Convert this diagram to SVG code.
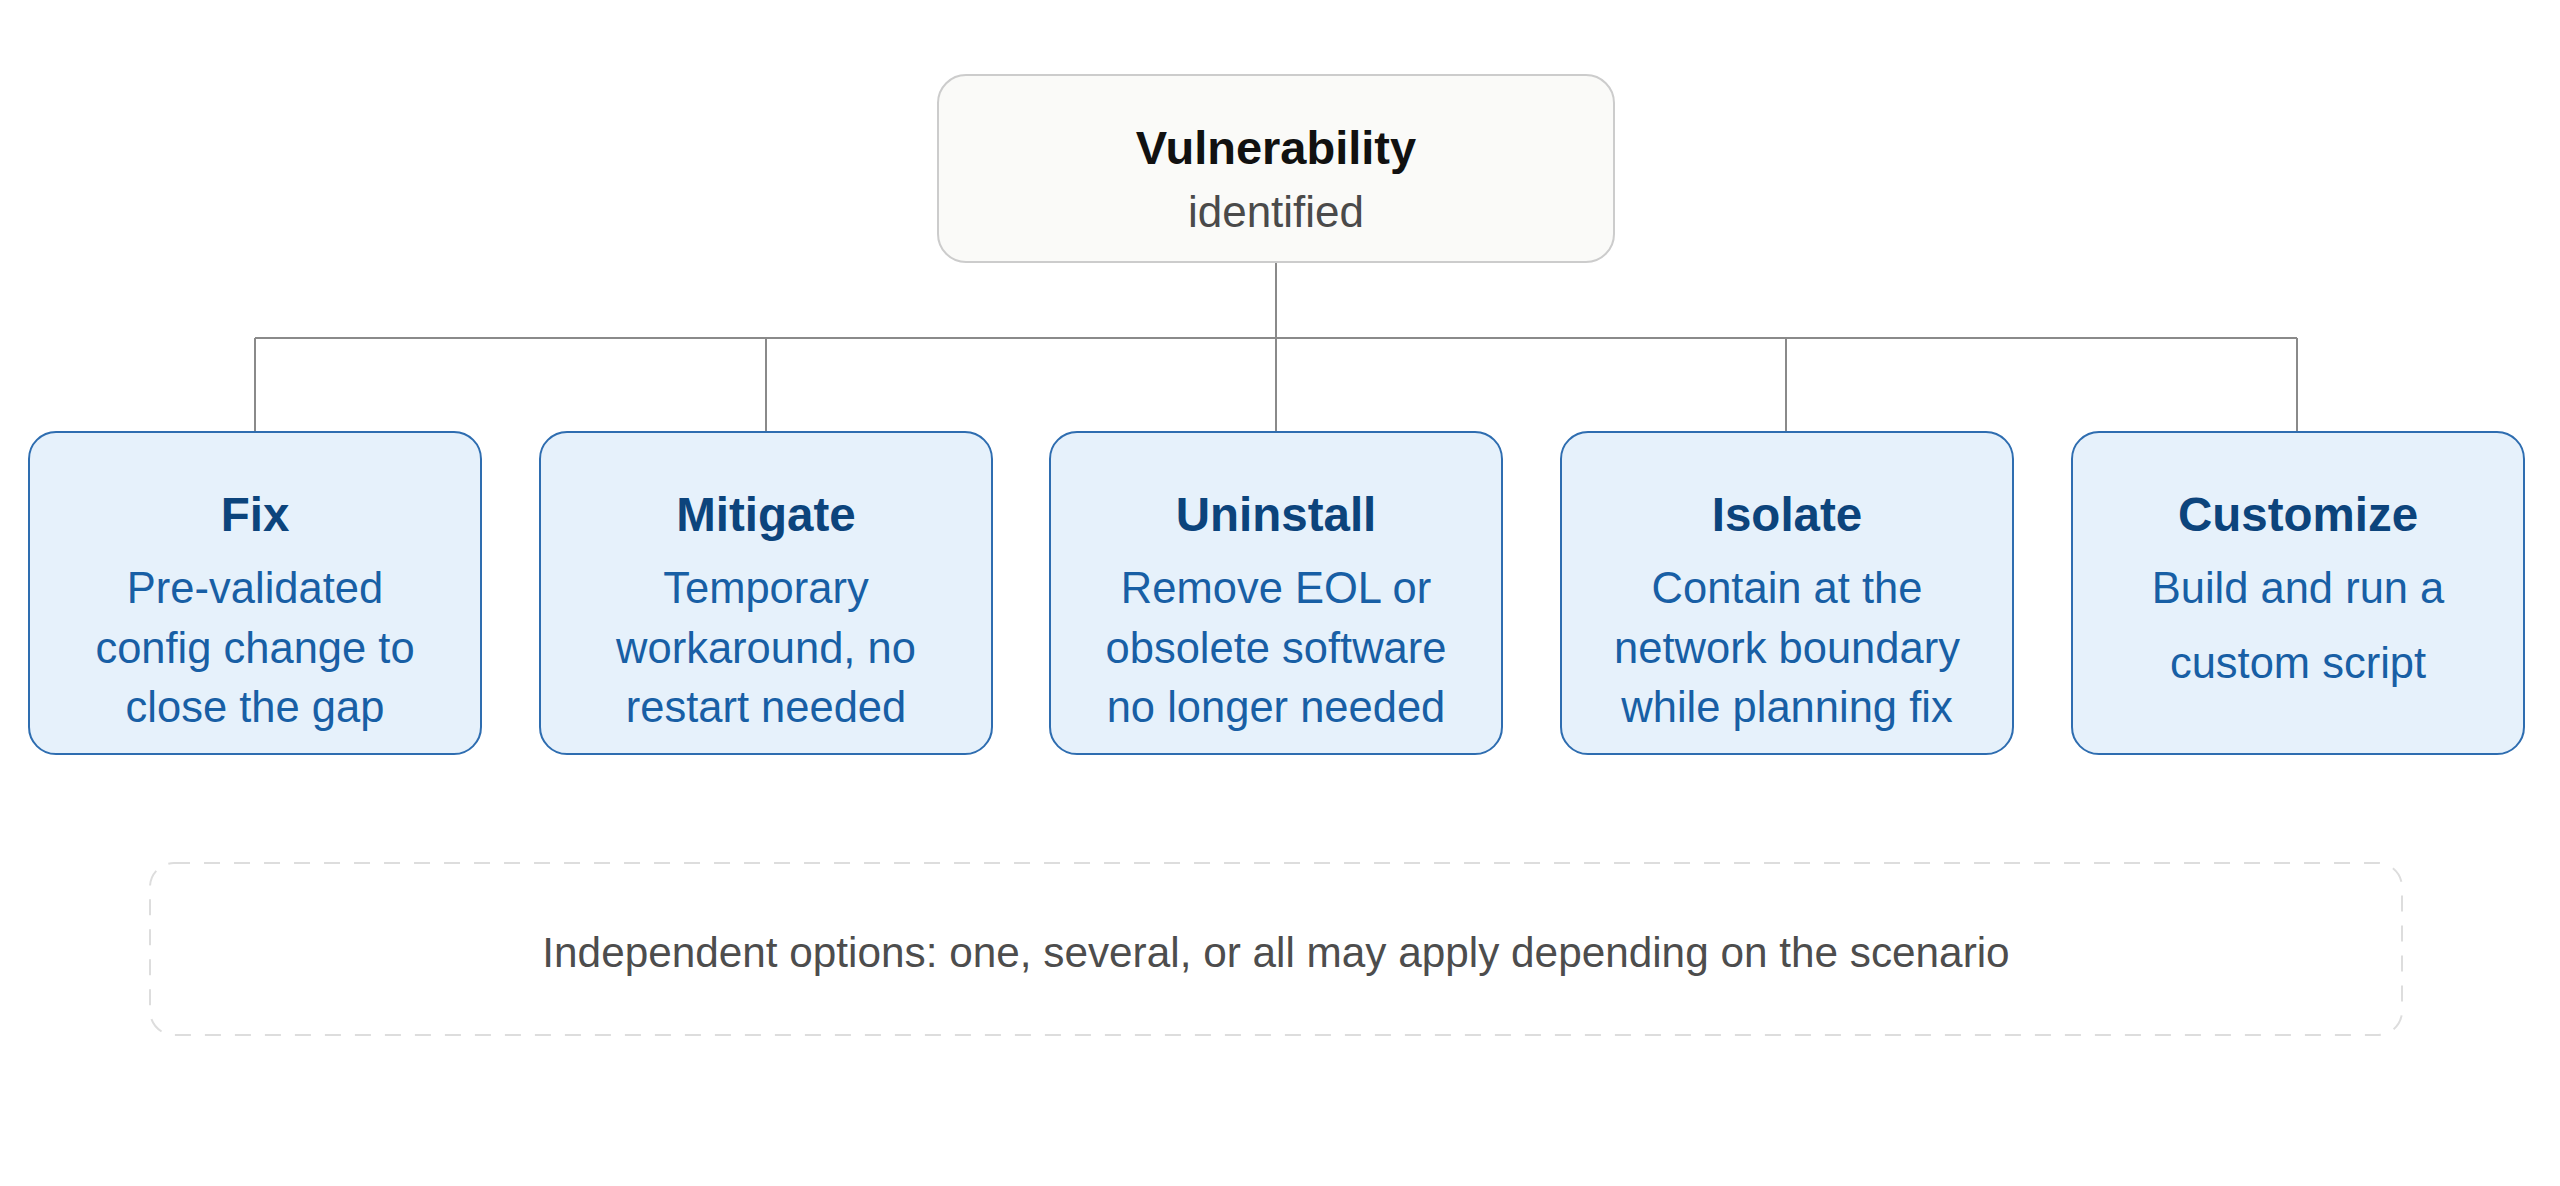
<svg xmlns="http://www.w3.org/2000/svg" width="2560" height="1186" viewBox="0 0 2560 1186">
<style>
.opt rect{fill:#E6F1FB;stroke:#2E6DB0;stroke-width:2}
.t{font-family:"Liberation Sans",Arial,sans-serif;font-weight:bold;font-size:47.5px;fill:#0C447C;text-anchor:middle}
.s{font-family:"Liberation Sans",Arial,sans-serif;font-size:43.5px;fill:#185FA5;text-anchor:middle}
.conn{stroke:#8a8a8a;stroke-width:2;fill:none}
</style>
<rect width="2560" height="1186" fill="#ffffff"/>
<g id="connectors" class="conn">
<path d="M1276 262V338"/>
<path d="M255 338H2297"/>
<path d="M255 338V432M766 338V432M1276 338V432M1786 338V432M2297 338V432"/>
</g>
<g id="vulnerability">
<rect x="938" y="75" width="676" height="187" rx="28" fill="#FAFAF8" stroke="#cccccc" stroke-width="2"/>
<text x="1276" y="164" font-family="Liberation Sans,Arial,sans-serif" font-weight="bold" font-size="47" fill="#111111" text-anchor="middle">Vulnerability</text>
<text x="1276" y="227" font-family="Liberation Sans,Arial,sans-serif" font-size="44" fill="#4a4a4a" text-anchor="middle">identified</text>
</g>
<g id="fix" class="opt">
<rect x="29" y="432" width="452" height="322" rx="27"/>
<text class="t" x="255" y="531">Fix</text>
<text class="s" x="255" y="603">Pre-validated</text>
<text class="s" x="255" y="663">config change to</text>
<text class="s" x="255" y="722">close the gap</text>
</g>
<g id="mitigate" class="opt">
<rect x="540" y="432" width="452" height="322" rx="27"/>
<text class="t" x="766" y="531">Mitigate</text>
<text class="s" x="766" y="603">Temporary</text>
<text class="s" x="766" y="663">workaround, no</text>
<text class="s" x="766" y="722">restart needed</text>
</g>
<g id="uninstall" class="opt">
<rect x="1050" y="432" width="452" height="322" rx="27"/>
<text class="t" x="1276" y="531">Uninstall</text>
<text class="s" x="1276" y="603">Remove EOL or</text>
<text class="s" x="1276" y="663">obsolete software</text>
<text class="s" x="1276" y="722">no longer needed</text>
</g>
<g id="isolate" class="opt">
<rect x="1561" y="432" width="452" height="322" rx="27"/>
<text class="t" x="1787" y="531">Isolate</text>
<text class="s" x="1787" y="603">Contain at the</text>
<text class="s" x="1787" y="663">network boundary</text>
<text class="s" x="1787" y="722">while planning fix</text>
</g>
<g id="customize" class="opt">
<rect x="2072" y="432" width="452" height="322" rx="27"/>
<text class="t" x="2298" y="531">Customize</text>
<text class="s" x="2298" y="603">Build and run a</text>
<text class="s" x="2298" y="678">custom script</text>
</g>
<g id="note">
<rect x="150" y="863" width="2252" height="172" rx="24" fill="none" stroke="#dddddd" stroke-width="2" stroke-dasharray="16 14"/>
<text x="1276" y="967" font-family="Liberation Sans,Arial,sans-serif" font-size="42.3" fill="#4d4d4d" text-anchor="middle">Independent options: one, several, or all may apply depending on the scenario</text>
</g>
</svg>
